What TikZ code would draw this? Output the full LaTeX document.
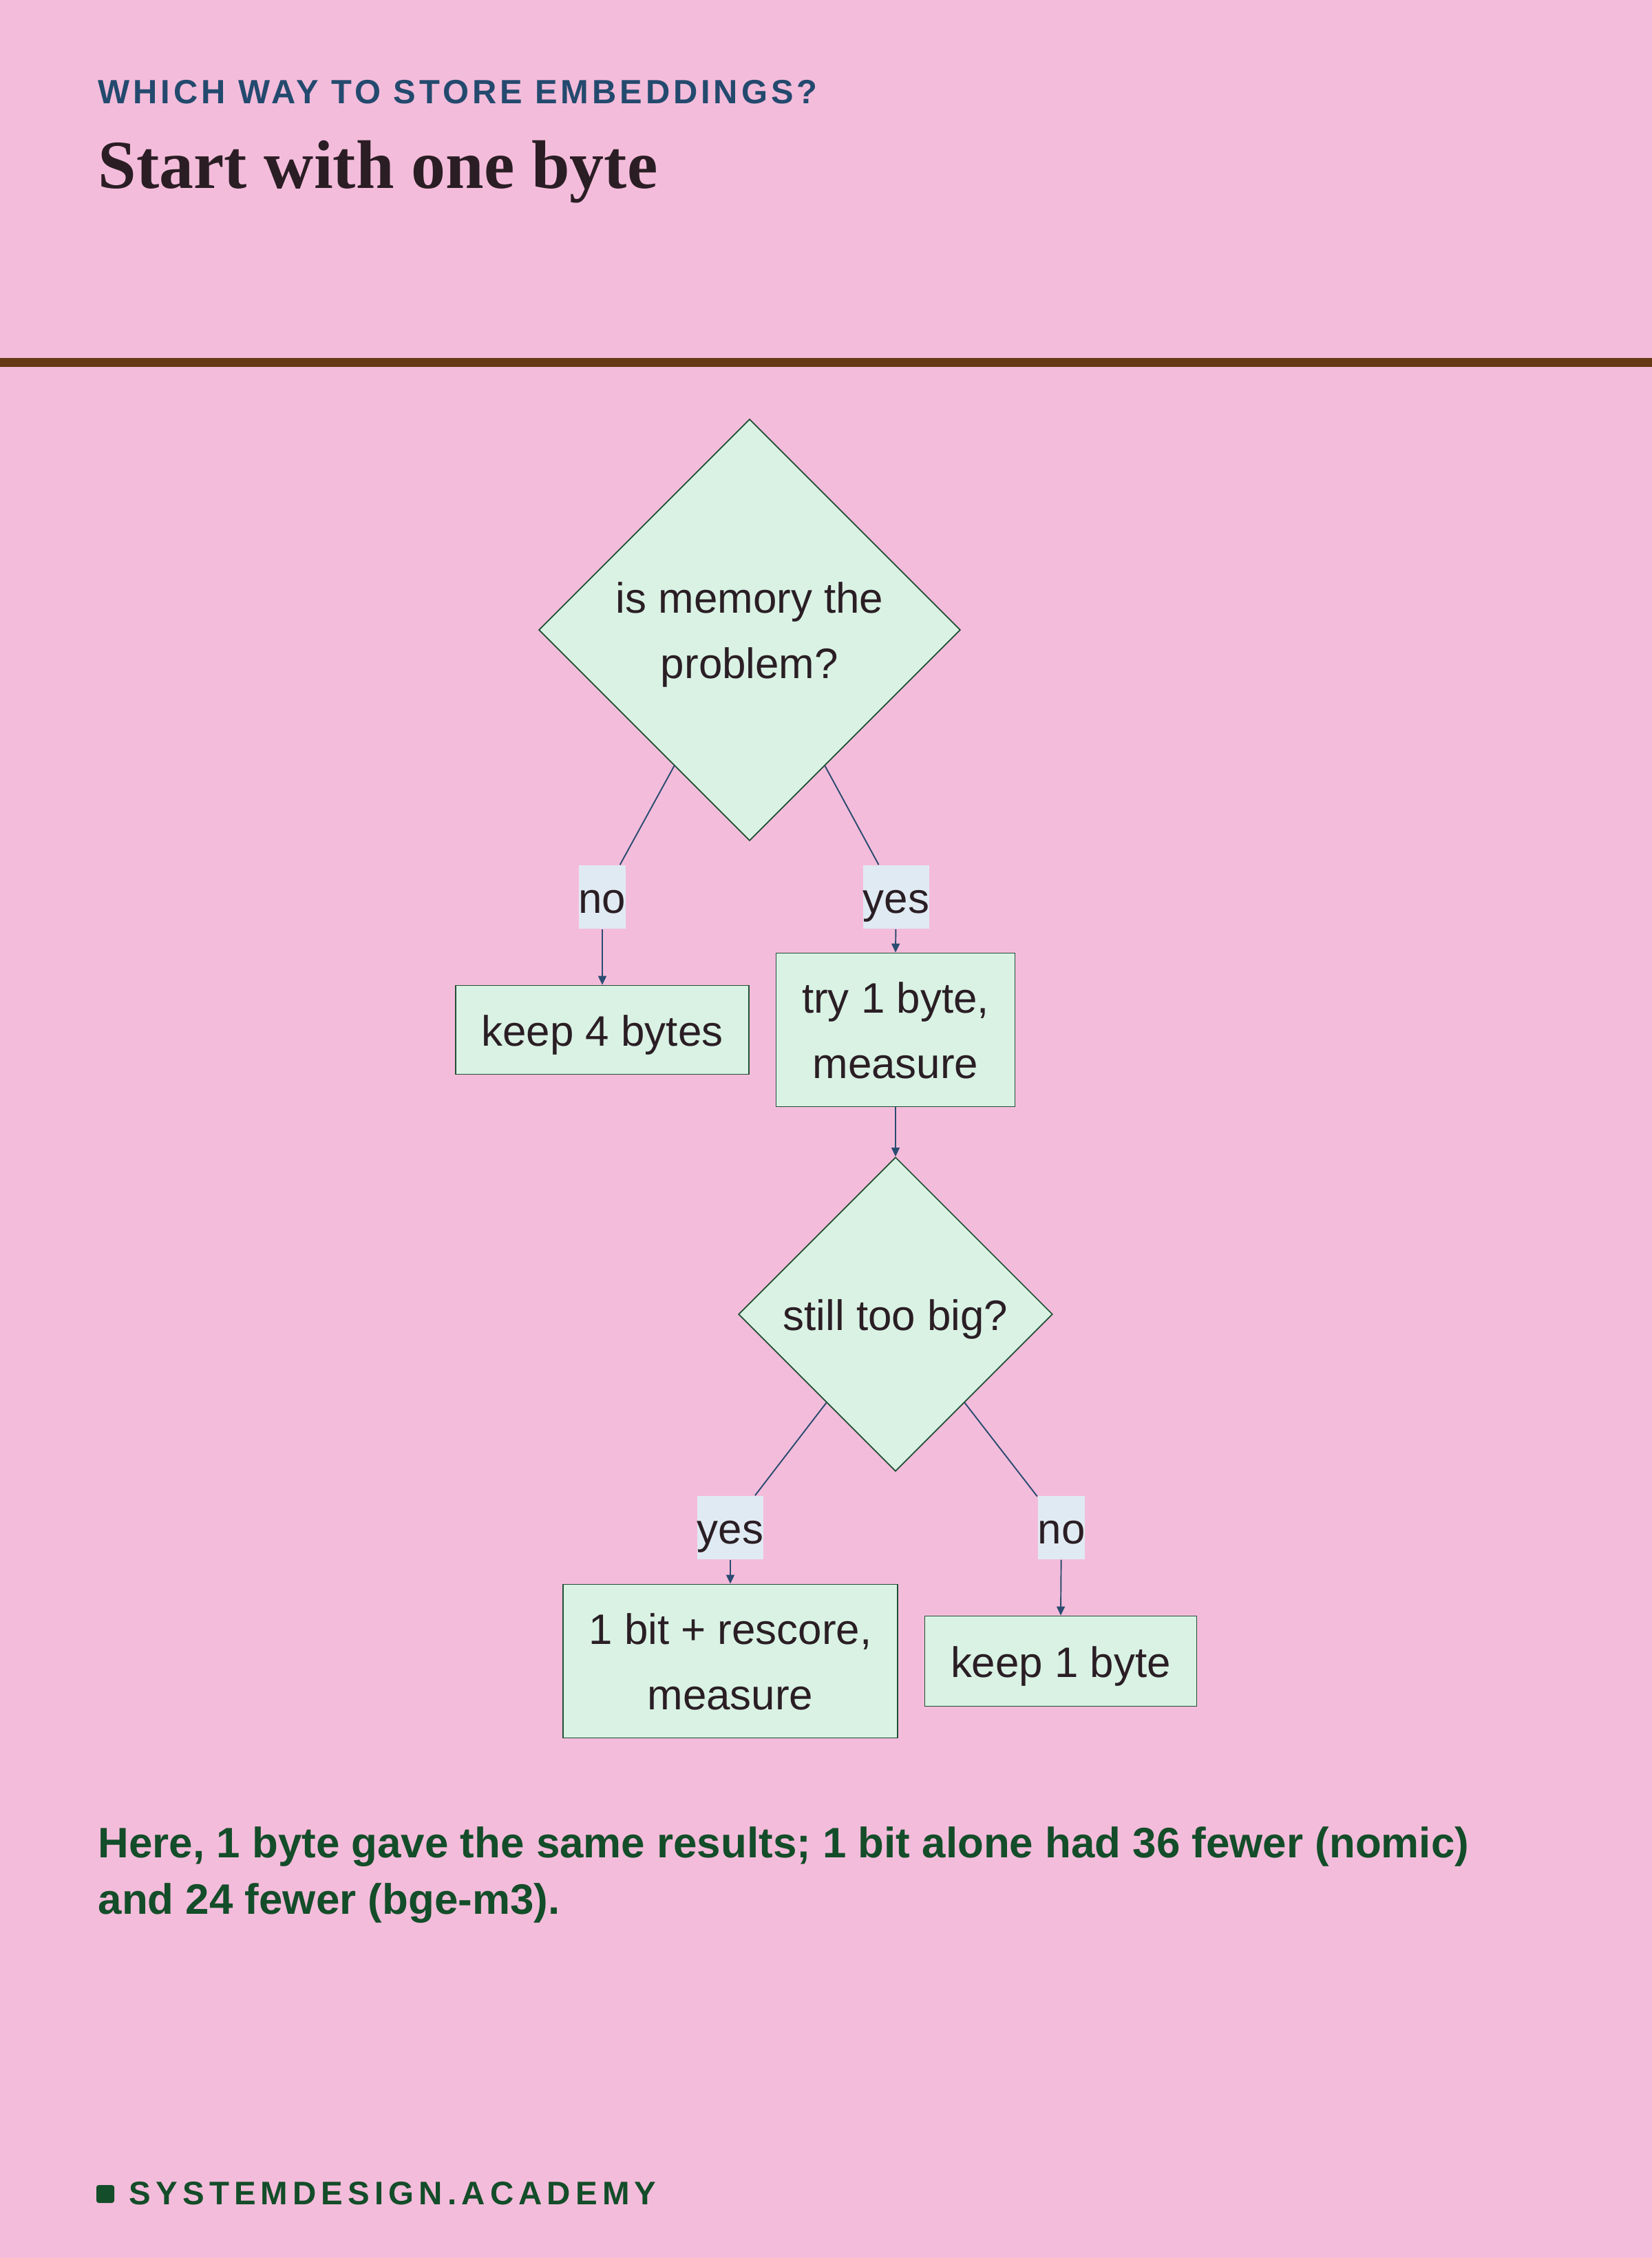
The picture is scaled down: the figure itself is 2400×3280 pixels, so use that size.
\documentclass[tikz,border=0pt]{standalone}
\usepackage{fontspec}
\setmainfont{Liberation Sans}
\newfontfamily\titlefont{Liberation Serif}
\newfontfamily\spacedfont[LetterSpace=10]{Liberation Sans}
\newfontfamily\footfont[LetterSpace=15]{Liberation Sans}
\usetikzlibrary{shapes.geometric,arrows.meta}

\definecolor{pagepink}{RGB}{244,188,219}
\definecolor{rulebrown}{RGB}{103,56,20}
\definecolor{headblue}{RGB}{35,74,110}
\definecolor{inkdark}{RGB}{42,30,36}
\definecolor{capgreen}{RGB}{19,77,41}
\definecolor{mint}{RGB}{217,242,228}
\definecolor{mintline}{RGB}{30,80,50}
\definecolor{lblbg}{RGB}{224,234,242}
\definecolor{edgeblue}{RGB}{43,76,112}

\tikzset{
	txt/.style={font=\fontsize{17.6pt}{26.8pt}\selectfont, text=inkdark, align=center,
		text height=0.57cm, text depth=0.11cm},
	twoline/.style={text height=1.51cm},
	decide/.style={txt, diamond, aspect=1, draw=mintline, line width=0.5pt, fill=mint, inner sep=0pt},
	stepbox/.style={txt, rectangle, draw=mintline, line width=0.5pt, fill=mint, inner xsep=0.375cm, inner ysep=0pt},
	lbl/.style={txt, fill=lblbg, inner xsep=0pt, inner ysep=0pt, minimum height=0.92cm},
	edge/.style={draw=edgeblue, line width=0.55pt},
	arr/.style={edge, -{Triangle[length=0.13cm,width=0.12cm]}}
}

\begin{document}
\begin{tikzpicture}[x=0.01cm, y=-0.01cm]
	\useasboundingbox (0,0) rectangle (2400,3280);
	\fill[pagepink] (0,0) rectangle (2400,3280);

	% header
	\node[anchor=base west, inner sep=0pt, text=headblue, font=\spacedfont\bfseries\fontsize{13.9pt}{16pt}\selectfont] (kicker) at (142,150) {WHICH WAY TO STORE EMBEDDINGS?};
	\node[anchor=base west, inner sep=0pt, text=inkdark, font=\titlefont\bfseries\fontsize{28.4pt}{32pt}\selectfont] (title) at (142,273) {Start with one byte};
	\fill[rulebrown] (0,520) rectangle (2400,533);

	% decisions and steps
	\node[decide, twoline, minimum width=6.12cm, minimum height=6.12cm] (mem) at (1089,915) {is memory the\\problem?};
	\node[stepbox, minimum height=1.29cm] (keep4) at (875,1496) {keep 4 bytes};
	\node[stepbox, twoline, minimum height=2.23cm] (try1) at (1301,1496) {try 1 byte,\\measure};
	\node[decide, minimum width=4.56cm, minimum height=4.56cm] (big) at (1301,1909) {still too big?};
	\node[stepbox, twoline, minimum height=2.23cm] (bit1) at (1061,2413) {1 bit + rescore,\\measure};
	\node[stepbox, minimum height=1.31cm] (keep1) at (1541,2413) {keep 1 byte};

	% edge labels
	\node[lbl] (no1) at (875,1303) {no};
	\node[lbl] (yes1) at (1302,1303) {yes};
	\node[lbl] (yes2) at (1061,2219) {yes};
	\node[lbl] (no2) at (1542,2219) {no};

	% connectors
	\draw[edge] (mem.-119) -- (no1);
	\draw[arr] (no1) -- (keep4.north);
	\draw[edge] (mem.-61) -- (yes1);
	\draw[arr] (yes1) -- (try1.north);
	\draw[arr] (try1.south) -- (big.north);
	\draw[edge] (big.-128) -- (yes2);
	\draw[arr] (yes2) -- (bit1.north);
	\draw[edge] (big.-52) -- (no2);
	\draw[arr] (no2) -- (keep1.north);

	% caption and footer
	\node[anchor=base west, inner sep=0pt, text=capgreen, align=left, font=\bfseries\fontsize{17.6pt}{23.3pt}\selectfont] (note) at (142,2780) {Here, 1 byte gave the same results; 1 bit alone had 36 fewer (nomic)\\and 24 fewer (bge-m3).};
	\fill[capgreen, rounded corners=1pt] (140,3174) rectangle (166,3200);
	\node[anchor=base west, inner sep=0pt, text=capgreen, font=\footfont\bfseries\fontsize{13.5pt}{16pt}\selectfont] (brand) at (187,3202) {SYSTEMDESIGN.ACADEMY};
\end{tikzpicture}
\end{document}
